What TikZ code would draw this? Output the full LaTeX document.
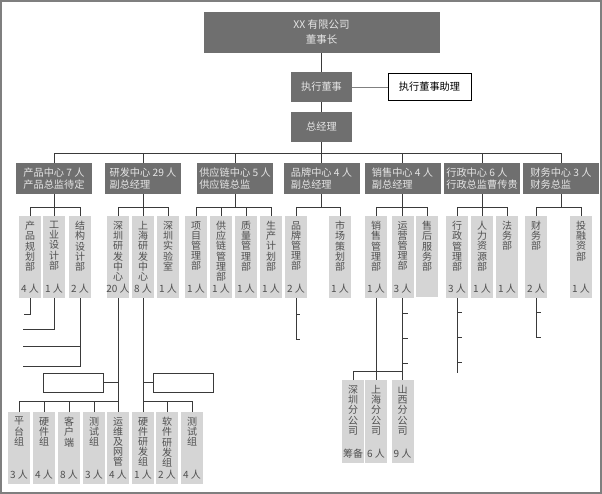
\documentclass[tikz,border=0pt]{standalone}
\usepackage{fontspec}
\setmainfont{Noto Sans CJK SC}
\definecolor{dkbox}{HTML}{6F6F6F}
\definecolor{ltbox}{HTML}{D5D5D5}
\definecolor{dktext}{HTML}{505050}
\definecolor{lncol}{HTML}{3A3A3A}
\definecolor{frm}{HTML}{7F7F7F}
% vertical column text: height, name, head count
\newcommand{\vcol}[3]{\parbox[t][#1][s]{22pt}{\centering #2\par\vfill\makebox[0pt]{#3}}}
\begin{document}
\begin{tikzpicture}[x=1pt,y=-1pt]
\tikzstyle{dk} = [fill=dkbox,text=white!90!black,inner sep=0pt,font=\fontsize{10.2}{12}\selectfont] %dark box
\tikzstyle{ctr} = [dk,minimum width=76pt,minimum height=31pt,align=left] %centre
\tikzstyle{sub} = [fill=ltbox,text=dktext,inner xsep=0pt,inner ysep=5pt,minimum width=22pt,anchor=north,font=\fontsize{10}{10.2}\selectfont] %department
\tikzstyle{wb} = [draw=lncol,fill=white,minimum width=60pt,minimum height=19pt] %empty box
\tikzstyle{ln} = [draw=lncol,line width=0.8pt] %line
\useasboundingbox (0,0) rectangle (602,494);
\draw[frm,line width=1.6pt] (1,1) rectangle (601,493);
% top
\node[dk,minimum width=236pt,minimum height=41pt,align=center,font=\fontsize{10.5}{15}\selectfont](top)at(321.5,32.5){XX 有限公司\\董事长};
\node[dk,minimum width=61pt,minimum height=30pt](ed)at(321.5,87){执行董事};
\node[draw=black,fill=white,minimum width=83pt,minimum height=27pt,font=\fontsize{10.2}{12}\selectfont](asst)at(429.5,87){执行董事助理};
\node[dk,minimum width=61pt,minimum height=30pt](gm)at(321.5,127){总经理};
\draw[ln](top)--(ed);
\draw[ln](ed)--(gm);
\draw[draw=gray,line width=0.8pt](ed)--(asst);
% centres
\node[ctr](c1)at(54,178.5){产品中心 7 人\\产品总监待定};
\node[ctr](c2)at(143,178.5){研发中心 29 人\\副总经理};
\node[ctr](c3)at(235,178.5){供应链中心 5 人\\供应链总监};
\node[ctr](c4)at(321.5,178.5){品牌中心 4 人\\副总经理};
\node[ctr](c5)at(402.5,178.5){销售中心 4 人\\副总经理};
\node[ctr](c6)at(482,178.5){行政中心 6 人\\行政总监曹传贵};
\node[ctr](c7)at(561,178.5){财务中心 3 人\\财务总监};
\draw[ln](gm)--(c4);
\draw[ln](c1.north)--++(0,-9)-|(c7.north);
\draw[ln](c2.north)--++(0,-9);
\draw[ln](c3.north)--++(0,-9);
\draw[ln](c5.north)--++(0,-9);
\draw[ln](c6.north)--++(0,-9);
% departments
\node[sub](s11)at(30,216){\vcol{71pt}{产\\品\\规\\划\\部}{4 人}};
\node[sub](s12)at(54,216){\vcol{71pt}{工\\业\\设\\计\\部}{1 人}};
\node[sub](s13)at(80,216){\vcol{71pt}{结\\构\\设\\计\\部}{2 人}};
\node[sub](s21)at(118,216){\vcol{71pt}{深\\圳\\研\\发\\中\\心}{20 人}};
\node[sub](s22)at(143,216){\vcol{71pt}{上\\海\\研\\发\\中\\心}{8 人}};
\node[sub](s23)at(168,216){\vcol{71pt}{深\\圳\\实\\验\\室}{1 人}};
\node[sub](s31)at(196,216){\vcol{71pt}{项\\目\\管\\理\\部}{1 人}};
\node[sub](s32)at(221,216){\vcol{71pt}{供\\应\\链\\管\\理\\部}{1 人}};
\node[sub](s33)at(246,216){\vcol{71pt}{质\\量\\管\\理\\部}{1 人}};
\node[sub](s34)at(271,216){\vcol{71pt}{生\\产\\计\\划\\部}{1 人}};
\node[sub](s41)at(296,216){\vcol{71pt}{品\\牌\\管\\理\\部}{2 人}};
\node[sub](s42)at(340,216){\vcol{71pt}{市\\场\\策\\划\\部}{1 人}};
\node[sub](s51)at(376,216){\vcol{71pt}{销\\售\\管\\理\\部}{1 人}};
\node[sub](s52)at(402.5,216){\vcol{71pt}{运\\营\\管\\理\\部}{3 人}};
\node[sub](s53)at(427,216){\vcol{71pt}{售\\后\\服\\务\\部}{}};
\node[sub](s61)at(457,216){\vcol{71pt}{行\\政\\管\\理\\部}{3 人}};
\node[sub](s62)at(482,216){\vcol{71pt}{人\\力\\资\\源\\部}{1 人}};
\node[sub](s63)at(507,216){\vcol{71pt}{法\\务\\部}{1 人}};
\node[sub](s71)at(536,216){\vcol{71pt}{财\\务\\部}{2 人}};
\node[sub](s72)at(581,216){\vcol{71pt}{投\\融\\资\\部}{1 人}};
\draw[ln](c1.south)--++(0,13);
\draw[ln](s11.north)--++(0,-9)-|(s13.north);
\draw[ln](s12.north)--++(0,-9);
\draw[ln](c2.south)--++(0,13);
\draw[ln](s21.north)--++(0,-9)-|(s23.north);
\draw[ln](s22.north)--++(0,-9);
\draw[ln](c3.south)--++(0,13);
\draw[ln](s31.north)--++(0,-9)-|(s34.north);
\draw[ln](s32.north)--++(0,-9);
\draw[ln](s33.north)--++(0,-9);
\draw[ln](c4.south)--++(0,13);
\draw[ln](s41.north)--++(0,-9)-|(s42.north);
\draw[ln](c5.south)--++(0,13);
\draw[ln](s51.north)--++(0,-9)-|(s53.north);
\draw[ln](s52.north)--++(0,-9);
\draw[ln](c6.south)--++(0,13);
\draw[ln](s61.north)--++(0,-9)-|(s63.north);
\draw[ln](s62.north)--++(0,-9);
\draw[ln](c7.south)--++(0,13);
\draw[ln](s71.north)--++(0,-9)-|(s72.north);
% groups
\node[wb](wb1)at(73,382.5){};
\node[wb](wb2)at(183,382.5){};
\node[sub](g1)at(19,412){\vcol{61pt}{平\\台\\组}{3 人}};
\node[sub](g2)at(44,412){\vcol{61pt}{硬\\件\\组}{4 人}};
\node[sub](g3)at(69,412){\vcol{61pt}{客\\户\\端}{8 人}};
\node[sub](g4)at(94,412){\vcol{61pt}{测\\试\\组}{3 人}};
\node[sub](g5)at(118,412){\vcol{61pt}{运\\维\\及\\网\\管}{4 人}};
\node[sub](h1)at(143,412){\vcol{61pt}{硬\\件\\研\\发\\组}{1 人}};
\node[sub](h2)at(167,412){\vcol{61pt}{软\\件\\研\\发\\组}{2 人}};
\node[sub](h3)at(192,412){\vcol{61pt}{测\\试\\组}{4 人}};
\node[sub](f1)at(353,380){\vcol{72pt}{深\\圳\\分\\公\\司}{筹备}};
\node[sub](f2)at(376,380){\vcol{72pt}{上\\海\\分\\公\\司}{6 人}};
\node[sub](f3)at(402.5,380){\vcol{72pt}{山\\西\\分\\公\\司}{9 人}};
\draw[ln](s11.south)--++(0,16)--++(-6,0);
\draw[ln](s12.south)--++(0,31)--++(-31,0);
\draw[ln](s13.south)--++(0,68)--++(-57,0);
\draw[ln](s13.south)++(0,48)--++(-57,0);
\draw[ln](s21.south)--(g5.north);
\draw[ln](g1.north)--++(0,-11)-|(g5.north);
\draw[ln](g2.north)--++(0,-11);
\draw[ln](g3.north)--++(0,-11);
\draw[ln](g4.north)--++(0,-11);
\draw[ln](wb1)--(wb1-|s21.south);
\draw[ln](s22.south)--(h1.north);
\draw[ln](h1.north)--++(0,-11)-|(h3.north);
\draw[ln](h2.north)--++(0,-11);
\draw[ln](wb2)--(wb2-|s22.south);
\draw[ln](s41.south)--++(0,41)--++(4,0);
\draw[ln](s41.south)++(0,16)--++(4,0);
\draw[ln](s51.south)--(f2.north);
\draw[ln](s52.south)--(f3.north);
\draw[ln](f1.north)--++(0,-9)-|(f3.north);
\draw[ln](s52.south)++(0,15)--++(5,0);
\draw[ln](s52.south)++(0,40)--++(5,0);
\draw[ln](s52.south)++(0,65)--++(5,0);
\draw[ln](s61.south)--++(0,75);
\draw[ln](s61.south)++(0,14)--++(5,0);
\draw[ln](s61.south)++(0,39)--++(5,0);
\draw[ln](s61.south)++(0,64)--++(5,0);
\draw[ln](s71.south)--++(0,39)--++(5,0);
\draw[ln](s71.south)++(0,14)--++(5,0);
\end{tikzpicture}
\end{document}
